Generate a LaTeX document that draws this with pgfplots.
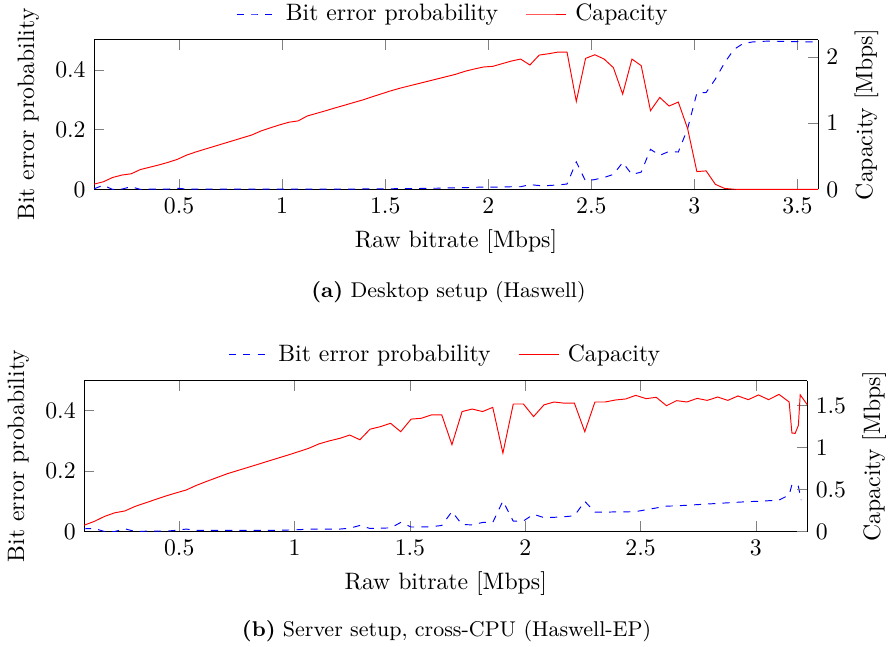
\documentclass[border=0pt]{standalone}
\usepackage{pgfplots}
\usepackage{pgfplotstable}
\pgfplotsset{compat=1.18}
\pgfplotstableread{
x p c
0.087 0.002 0.080
0.132 0.014 0.115
0.177 0.000 0.180
0.222 0.001 0.217
0.267 0.009 0.236
0.312 0.000 0.300
0.357 0.001 0.335
0.402 0.001 0.370
0.447 0.001 0.410
0.492 0.004 0.455
0.537 0.001 0.520
0.582 0.001 0.567
0.627 0.001 0.610
0.672 0.001 0.652
0.717 0.001 0.695
0.762 0.001 0.737
0.807 0.001 0.780
0.852 0.001 0.822
0.897 0.001 0.883
0.942 0.001 0.930
0.987 0.001 0.975
1.032 0.001 1.015
1.077 0.001 1.035
1.122 0.001 1.110
1.167 0.001 1.150
1.212 0.001 1.190
1.257 0.001 1.232
1.302 0.001 1.272
1.347 0.001 1.313
1.392 0.002 1.353
1.437 0.002 1.400
1.482 0.002 1.445
1.527 0.002 1.490
1.572 0.003 1.530
1.617 0.003 1.565
1.662 0.003 1.600
1.707 0.004 1.635
1.752 0.004 1.670
1.797 0.005 1.705
1.842 0.005 1.740
1.887 0.006 1.785
1.932 0.007 1.820
1.977 0.008 1.850
2.022 0.008 1.860
2.067 0.008 1.900
2.112 0.009 1.940
2.157 0.009 1.970
2.202 0.016 1.880
2.247 0.013 2.030
2.292 0.013 2.050
2.337 0.015 2.075
2.382 0.018 2.075
2.427 0.092 1.330
2.472 0.028 1.980
2.517 0.033 2.035
2.562 0.040 1.970
2.607 0.050 1.840
2.652 0.090 1.440
2.697 0.050 1.970
2.742 0.058 1.870
2.787 0.134 1.190
2.832 0.114 1.390
2.877 0.127 1.260
2.922 0.125 1.320
2.967 0.203 0.920
3.012 0.322 0.270
3.057 0.324 0.280
3.102 0.369 0.076
3.147 0.424 0.015
3.192 0.468 0.003
3.237 0.488 0
3.282 0.493 0
3.327 0.495 0
3.372 0.496 0
3.417 0.495 0
3.462 0.494 0
3.507 0.494 0
3.552 0.493 0
3.600 0.493 0
}\dataA
\pgfplotstableread{
x p
0.087 0.009
0.131 0.010
0.176 0.000
0.220 0.000
0.264 0.009
0.309 0.000
0.353 0.001
0.397 0.001
0.441 0.001
0.486 0.004
0.530 0.008
0.574 0.004
0.619 0.004
0.663 0.004
0.707 0.004
0.752 0.004
0.796 0.004
0.840 0.004
0.884 0.004
0.929 0.004
0.973 0.005
1.017 0.006
1.062 0.008
1.106 0.008
1.150 0.008
1.195 0.008
1.239 0.011
1.283 0.020
1.327 0.010
1.372 0.011
1.416 0.012
1.460 0.030
1.505 0.015
1.549 0.015
1.593 0.016
1.638 0.020
1.682 0.066
1.726 0.023
1.770 0.022
1.815 0.030
1.859 0.030
1.903 0.101
1.948 0.034
1.992 0.035
2.036 0.057
2.081 0.046
2.125 0.047
2.169 0.049
2.213 0.052
2.258 0.100
2.302 0.064
2.346 0.064
2.391 0.065
2.435 0.065
2.479 0.066
2.524 0.072
2.568 0.078
2.612 0.084
2.656 0.085
2.701 0.087
2.745 0.089
2.789 0.091
2.834 0.093
2.878 0.095
2.922 0.097
2.967 0.099
3.011 0.100
3.055 0.102
3.100 0.104
3.144 0.121
3.156 0.155
3.170 0.158
3.184 0.150
3.196 0.104
}\dataBp
\pgfplotstableread{
x c
0.087 0.075
0.131 0.120
0.176 0.180
0.220 0.223
0.264 0.245
0.309 0.300
0.353 0.341
0.397 0.382
0.441 0.423
0.486 0.460
0.530 0.495
0.574 0.550
0.619 0.598
0.663 0.643
0.707 0.688
0.752 0.726
0.796 0.763
0.840 0.800
0.884 0.838
0.929 0.876
0.973 0.913
1.017 0.952
1.062 0.993
1.106 1.045
1.150 1.080
1.195 1.110
1.239 1.150
1.283 1.094
1.327 1.220
1.372 1.250
1.416 1.290
1.460 1.190
1.505 1.340
1.549 1.350
1.593 1.390
1.638 1.390
1.682 1.035
1.726 1.430
1.770 1.460
1.815 1.430
1.859 1.480
1.903 0.935
1.948 1.520
1.992 1.520
2.036 1.370
2.081 1.510
2.125 1.544
2.169 1.530
2.213 1.530
2.258 1.190
2.302 1.544
2.346 1.544
2.391 1.568
2.435 1.580
2.479 1.623
2.524 1.584
2.568 1.600
2.612 1.500
2.656 1.560
2.701 1.544
2.745 1.587
2.789 1.563
2.834 1.604
2.878 1.563
2.922 1.616
2.967 1.572
3.011 1.628
3.055 1.572
3.100 1.635
3.144 1.544
3.156 1.174
3.170 1.170
3.184 1.265
3.192 1.630
3.223 1.510
}\dataBc
\begin{document}
\begin{tikzpicture}
\useasboundingbox (0,0) rectangle (376.6pt,272.5pt);
% ---------- (a) ----------
\begin{axis}[
  at={(39.6pt,192.7pt)}, anchor=south west,
  scale only axis, width=305pt, height=63pt,
  xmin=0.087, xmax=3.6, ymin=0, ymax=0.5,
  axis y line*=left,
  xtick={0.5,1,1.5,2,2.5,3,3.5}, ytick={0,0.2,0.4},
  xlabel={Raw bitrate [Mbps]}, ylabel={Bit error probability},
]
\addplot[blue, dashed] table[x=x, y=p] {\dataA};
\end{axis}
\begin{axis}[
  at={(39.6pt,192.7pt)}, anchor=south west,
  scale only axis, width=305pt, height=63pt,
  xmin=0.087, xmax=3.6, ymin=0, ymax=2.26,
  axis y line*=right, axis x line=none,
  ytick={0,1,2},
  ylabel={Capacity [Mbps]},
  legend style={at={(0.4975,1.173)}, anchor=center, draw=none,
    legend columns=2,
    /tikz/every odd column/.append style={column sep=1.5pt},
    /tikz/every even column/.append style={column sep=9.5pt}},
]
\addlegendimage{blue, dashed}
\addlegendentry{Bit error probability}
\addplot[red] table[x=x, y=c] {\dataA};
\addlegendentry{Capacity}
\end{axis}
% ---------- (b) ----------
\begin{axis}[
  at={(35.4pt,48.6pt)}, anchor=south west,
  scale only axis, width=304.7pt, height=63.6pt,
  xmin=0.087, xmax=3.223, ymin=0, ymax=0.5,
  axis y line*=left,
  xtick={0.5,1,1.5,2,2.5,3}, ytick={0,0.2,0.4},
  xlabel={Raw bitrate [Mbps]}, ylabel={Bit error probability},
]
\addplot[blue, dashed] table[x=x, y=p] {\dataBp};
\end{axis}
\begin{axis}[
  at={(35.4pt,48.6pt)}, anchor=south west,
  scale only axis, width=304.7pt, height=63.6pt,
  xmin=0.087, xmax=3.223, ymin=0, ymax=1.80,
  axis y line*=right, axis x line=none,
  ytick={0,0.5,1,1.5},
  ylabel={Capacity [Mbps]},
  legend style={at={(0.5015,1.17)}, anchor=center, draw=none,
    legend columns=2,
    /tikz/every odd column/.append style={column sep=1.5pt},
    /tikz/every even column/.append style={column sep=9.5pt}},
]
\addlegendimage{blue, dashed}
\addlegendentry{Bit error probability}
\addplot[red] table[x=x, y=c] {\dataBc};
\addlegendentry{Capacity}
\end{axis}
\node[font=\small] at (188.9pt,149.3pt) {\textbf{(a)} Desktop setup (Haswell)};
\node[font=\small] at (188.1pt,6.74pt) {\textbf{(b)} Server setup, cross-CPU (Haswell-EP)};
\end{tikzpicture}
\end{document}
